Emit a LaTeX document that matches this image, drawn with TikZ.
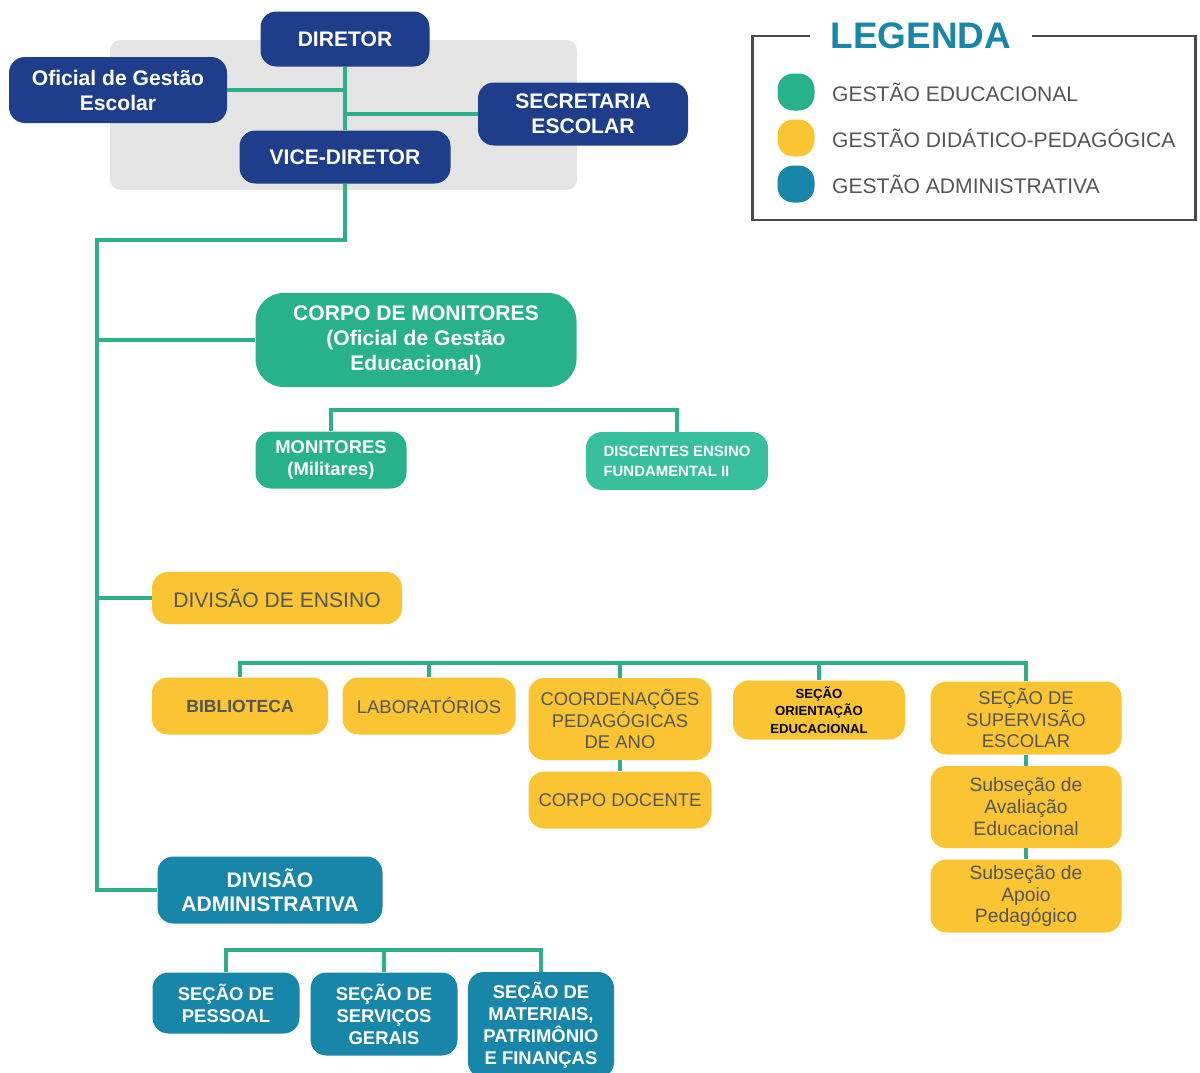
\documentclass[tikz,border=0pt]{standalone}
\usepackage{fontspec}
\setmainfont{Liberation Sans}
\usepackage{xcolor}
\usetikzlibrary{positioning,calc}

\definecolor{navyB}{RGB}{30,62,140}
\definecolor{greenE}{RGB}{40,178,138}
\definecolor{greenL}{RGB}{55,192,155}
\definecolor{yellowP}{RGB}{251,196,50}
\definecolor{tealA}{RGB}{24,134,168}
\definecolor{lineG}{RGB}{45,175,138}
\definecolor{grayT}{RGB}{85,85,85}
\definecolor{grayBG}{RGB}{228,228,228}
\definecolor{frameG}{RGB}{75,75,75}

\begin{document}
\begin{tikzpicture}[x=0.02cm,y=-0.02cm,
        sz/.style 2 args={minimum width=#1*0.02cm, minimum height=#2*0.02cm, inner sep=0pt},
        main node/.style={rounded corners=9pt, align=center},
        navy node/.style={main node, fill=navyB, text=white, font=\bfseries\fontsize{12}{14.2}\selectfont},
        green node/.style={main node, fill=greenE, text=white, font=\bfseries\fontsize{12}{14.2}\selectfont},
        yellow node/.style={main node, fill=yellowP, text=grayT, font=\fontsize{10.5}{12.5}\selectfont},
        teal node/.style={main node, fill=tealA, text=white, font=\bfseries\fontsize{10.5}{12.5}\selectfont},
        link/.style={draw=lineG, line width=2.3pt},
        legend dot/.style={sz={37}{37}, rounded corners=9pt},
        legend text/.style={anchor=west, text=grayT, font=\fontsize{12}{14}\selectfont}]

\useasboundingbox (0,0) rectangle (1200,1072);

% direction block
\fill[grayBG, rounded corners=6pt] (110,40) rectangle (577,190);

\node[navy node, sz={169}{55}] (dir) at (345,39) {DIRETOR};
\node[navy node, sz={218}{66}] (ofic) at (118,90) {Oficial de Gestão\\Escolar};
\node[navy node, sz={210}{63}] (sec) at (583,114) {SECRETARIA\\ESCOLAR};
\node[navy node, sz={211}{53}] (vice) at (345,157) {VICE-DIRETOR};

\draw[link] (dir.south) -- (vice.north);
\draw[link] (ofic.east) -- (ofic.east -| dir.south);
\draw[link] (sec.west) -- (sec.west -| dir.south);

% legend
\node[draw=frameG, line width=1.7pt, sz={443}{184}] (leg) at (974,128) {};
\node[fill=white, inner xsep=12pt, text=tealA, font=\bfseries\fontsize{21}{24}\selectfont] (legt) at (921,36) {LEGENDA};
\node[legend dot, fill=greenE] (l1) at (796,92) {};
\node[legend dot, fill=yellowP] (l2) at (796,138) {};
\node[legend dot, fill=tealA] (l3) at (796,184) {};
\node[legend text] (t1) at (826,92) {GESTÃO EDUCACIONAL};
\node[legend text] (t2) at (826,138) {GESTÃO DIDÁTICO-PEDAGÓGICA};
\node[legend text] (t3) at (826,184) {GESTÃO ADMINISTRATIVA};

% gestao educacional
\node[green node, sz={321}{94}, rounded corners=16pt] (corpo) at (416,340) {CORPO DE MONITORES\\(Oficial de Gestão\\Educacional)};
\node[green node, sz={151}{57}, font=\bfseries\fontsize{10.5}{12.5}\selectfont] (mon) at (331,460) {MONITORES\\(Militares)};
\node[green node, fill=greenL, align=left, sz={182}{58}, font=\bfseries\fontsize{8.5}{11.3}\selectfont] (disc) at (677,461) {DISCENTES ENSINO\\FUNDAMENTAL II};

\coordinate (mbar) at (0,410);
\draw[link] (mon.north) |- (mbar -| disc.north) -- (disc.north);

% gestao didatico-pedagogica
\node[yellow node, sz={250}{52}, font=\fontsize{12}{14}\selectfont] (ens) at (277,598) {DIVISÃO DE ENSINO};
\node[yellow node, sz={176}{57}, font=\bfseries\fontsize{10}{12}\selectfont] (bib) at (240,706) {BIBLIOTECA};
\node[yellow node, sz={173}{57}] (lab) at (429,706) {LABORATÓRIOS};
\node[yellow node, sz={183}{82}] (coord) at (620,719) {COORDENAÇÕES\\PEDAGÓGICAS\\DE ANO};
\node[yellow node, sz={183}{57}] (doc) at (620,800) {CORPO DOCENTE};
\node[yellow node, sz={172}{59}, text=black, font=\bfseries\fontsize{7.5}{9.8}\selectfont] (ori) at (819,710) {SEÇÃO\\ORIENTAÇÃO\\EDUCACIONAL};
\node[yellow node, sz={191}{73}] (sup) at (1026,718) {SEÇÃO DE\\SUPERVISÃO\\ESCOLAR};
\node[yellow node, sz={191}{82}, font=\fontsize{11}{12.5}\selectfont] (aval) at (1026,807) {Subseção de\\Avaliação\\Educacional};
\node[yellow node, sz={191}{73}, font=\fontsize{11}{12.5}\selectfont] (apoio) at (1026,896) {Subseção de\\Apoio\\Pedagógico};

\coordinate (ebar) at (0,663);
\draw[link] (bib.north) |- (ebar -| sup.north) -- (sup.north);
\foreach \n in {lab,coord,ori}
    \draw[link] (\n.north) -- (\n.north |- ebar);
\draw[link] (coord.south) -- (doc.north);
\draw[link] (sup.south) -- (aval.north);
\draw[link] (aval.south) -- (apoio.north);

% gestao administrativa
\node[teal node, sz={225}{67}, font=\bfseries\fontsize{12}{13.7}\selectfont] (adm) at (270,890) {DIVISÃO\\ADMINISTRATIVA};
\node[teal node, sz={147}{61}] (pes) at (226,1003) {SEÇÃO DE\\PESSOAL};
\node[teal node, sz={147}{83}] (serv) at (384,1014) {SEÇÃO DE\\SERVIÇOS\\GERAIS};
\node[teal node, sz={146}{106}] (mat) at (541,1025) {SEÇÃO DE\\MATERIAIS,\\PATRIMÔNIO\\E FINANÇAS};

\coordinate (abar) at (0,950);
\draw[link] (pes.north) |- (abar -| mat.north) -- (mat.north);
\draw[link] (serv.north) -- (serv.north |- abar);

% main trunk
\coordinate (trunk) at (97,240);
\draw[link] (vice.south) |- (trunk) -- (trunk |- adm.west) -- (adm.west);
\draw[link] (trunk |- corpo.west) -- (corpo.west);
\draw[link] (trunk |- ens.west) -- (ens.west);

\end{tikzpicture}
\end{document}
